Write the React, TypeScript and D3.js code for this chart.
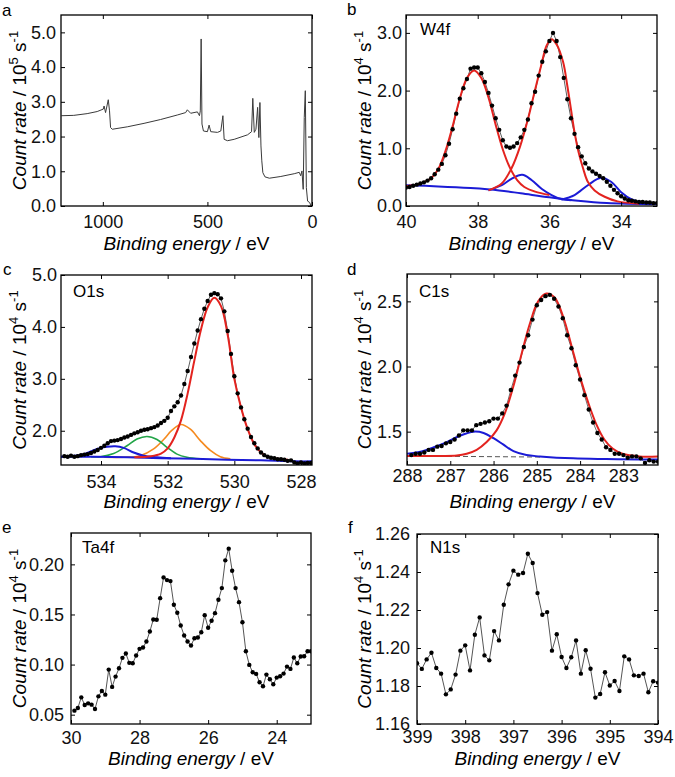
import React, { useEffect, useRef } from 'react';
import * as d3 from 'd3';

type Pt = [number, number];

// (a) survey: binding energy (eV) vs count rate (10^5 s^-1)
const surveyPts: Pt[] = [
  [1198, 2.6], [1139, 2.61], [1075, 2.66], [1027, 2.72], [998, 2.79], [994, 2.88], [987, 2.69],
  [974, 3.06], [968, 2.74], [963, 2.26], [955, 2.21], [883, 2.28], [803, 2.38], [724, 2.49],
  [644, 2.62], [604, 2.69], [596, 2.77], [580, 2.67], [548, 2.71], [538, 2.6], [534, 2.74],
  [530, 4.81], [526, 2.36], [519, 2.16], [500, 2.14], [492, 2.33], [484, 2.14], [452, 2.12],
  [436, 2.16], [426, 2.6], [420, 1.92], [404, 1.88], [372, 1.92], [308, 2.05], [289, 2.14],
  [283, 3.1], [276, 2.12], [268, 2.21], [260, 2.84], [254, 1.97], [249, 2.98], [244, 1.73],
  [240, 1.3], [235, 0.96], [225, 0.84], [204, 0.8], [149, 0.85], [85, 0.93], [61, 0.97],
  [54, 0.87], [48, 1.01], [42, 0.48], [37, 2.55], [32, 3.32], [27, 0.53], [21, 0.14],
  [11, 0.1], [5, 0.0],
];

// (b) W4f
const w4fData: Pt[] = [
  [40.0, 0.32], [39.9, 0.33], [39.8, 0.35], [39.7, 0.37], [39.6, 0.39], [39.5, 0.41], [39.4, 0.44],
  [39.3, 0.48], [39.2, 0.55], [39.1, 0.63], [39.0, 0.73], [38.9, 0.88], [38.8, 1.08], [38.7, 1.33],
  [38.6, 1.6], [38.5, 1.86], [38.4, 2.04], [38.3, 2.2], [38.2, 2.38], [38.1, 2.4], [38.0, 2.4],
  [37.9, 2.3], [37.8, 2.15], [37.7, 1.96], [37.6, 1.74], [37.5, 1.52], [37.4, 1.32], [37.3, 1.14],
  [37.2, 1.03], [37.1, 1.01], [37.0, 1.03], [36.9, 1.09], [36.8, 1.19], [36.7, 1.32], [36.6, 1.5],
  [36.5, 1.78], [36.4, 1.98], [36.3, 2.26], [36.2, 2.5], [36.1, 2.68], [36.0, 2.86], [35.9, 3.0],
  [35.8, 2.86], [35.7, 2.58], [35.6, 2.22], [35.5, 1.85], [35.4, 1.52], [35.3, 1.25], [35.2, 1.02],
  [35.1, 0.86], [35.0, 0.74], [34.9, 0.65], [34.8, 0.6], [34.7, 0.56], [34.6, 0.52], [34.5, 0.48],
  [34.4, 0.42], [34.3, 0.35], [34.2, 0.28], [34.1, 0.22], [34.0, 0.17], [33.9, 0.13], [33.8, 0.1],
  [33.7, 0.09], [33.6, 0.08], [33.5, 0.07], [33.4, 0.07], [33.3, 0.06], [33.2, 0.06], [33.1, 0.05],
  [33.0, 0.05],
];
const w4fRed1: Pt[] = [
  [40.0, 0.34], [39.6, 0.39], [39.3, 0.48], [39.1, 0.64], [38.9, 0.95], [38.7, 1.38], [38.5, 1.86],
  [38.3, 2.22], [38.1, 2.35], [37.9, 2.22], [37.7, 1.88], [37.5, 1.41], [37.3, 0.98], [37.1, 0.66],
  [36.9, 0.45], [36.7, 0.33], [36.4, 0.25], [36.0, 0.19],
];
const w4fRed2: Pt[] = [
  [37.7, 0.27], [37.33, 0.39], [37.06, 0.65], [36.82, 1.03], [36.59, 1.53], [36.41, 1.99],
  [36.22, 2.46], [36.08, 2.78], [35.94, 2.89], [35.8, 2.8], [35.62, 2.5], [35.5, 2.08], [35.4, 1.68],
  [35.3, 1.28], [35.19, 0.94], [35.06, 0.65], [34.93, 0.42], [34.74, 0.27], [34.46, 0.16],
  [34.1, 0.08], [33.5, 0.04],
];
const w4fBlue1: Pt[] = [
  [37.7, 0.27], [37.33, 0.36], [37.06, 0.47], [36.76, 0.54], [36.5, 0.45], [36.22, 0.3],
  [35.94, 0.19], [35.67, 0.12], [35.39, 0.1],
];
const w4fBlue2: Pt[] = [
  [35.67, 0.11], [35.3, 0.19], [34.93, 0.36], [34.56, 0.49], [34.28, 0.42], [34.0, 0.24],
  [33.72, 0.12], [33.35, 0.05], [33.0, 0.035],
];
const w4fBackground: Pt[] = [
  [40.0, 0.36], [39.1, 0.34], [38.2, 0.31], [37.4, 0.27], [36.8, 0.22], [36.0, 0.15], [35.2, 0.09],
  [34.4, 0.05], [33.0, 0.03],
];

// (c) O1s
const o1sData: Pt[] = [
  [535.1, 1.51], [535.0, 1.5], [534.9, 1.52], [534.8, 1.5], [534.7, 1.51], [534.6, 1.53], [534.5, 1.54],
  [534.4, 1.55], [534.3, 1.57], [534.2, 1.6], [534.1, 1.63], [534.0, 1.67], [533.9, 1.71], [533.8, 1.76],
  [533.7, 1.8], [533.6, 1.81], [533.5, 1.82], [533.4, 1.84], [533.3, 1.87], [533.2, 1.89], [533.1, 1.92],
  [533.0, 1.95], [532.9, 1.97], [532.8, 2.0], [532.7, 2.02], [532.6, 2.03], [532.5, 2.05], [532.4, 2.07],
  [532.3, 2.1], [532.2, 2.15], [532.1, 2.19], [532.0, 2.25], [531.9, 2.38], [531.8, 2.47], [531.7, 2.55],
  [531.6, 2.68], [531.5, 2.9], [531.4, 3.15], [531.3, 3.42], [531.2, 3.68], [531.1, 3.93], [531.0, 4.15],
  [530.9, 4.35], [530.8, 4.5], [530.7, 4.62], [530.6, 4.65], [530.5, 4.63], [530.4, 4.55], [530.3, 4.3],
  [530.2, 3.92], [530.1, 3.48], [530.0, 3.05], [529.9, 2.72], [529.8, 2.45], [529.7, 2.22], [529.6, 2.04],
  [529.5, 1.88], [529.4, 1.76], [529.3, 1.66], [529.2, 1.58], [529.1, 1.53], [529.0, 1.5], [528.9, 1.48],
  [528.8, 1.47], [528.7, 1.45], [528.6, 1.45], [528.5, 1.44], [528.4, 1.42], [528.3, 1.43], [528.2, 1.39],
  [528.1, 1.37], [528.0, 1.39], [527.9, 1.37], [527.8, 1.38], [527.7, 1.38],
];
const o1sRed: Pt[] = [
  [533.0, 1.49], [532.5, 1.51], [532.2, 1.56], [532.0, 1.66], [531.8, 1.87], [531.6, 2.2], [531.4, 2.72],
  [531.2, 3.35], [531.0, 3.95], [530.8, 4.38], [530.6, 4.56], [530.4, 4.4], [530.2, 3.85], [530.0, 3.0],
  [529.8, 2.45], [529.6, 2.03], [529.4, 1.74], [529.2, 1.58], [529.0, 1.5], [528.7, 1.46], [528.4, 1.44],
];
const o1sOrange: Pt[] = [
  [533.9, 1.49], [533.3, 1.49], [532.82, 1.52], [532.42, 1.65], [532.12, 1.83], [531.87, 2.01],
  [531.6, 2.12], [531.32, 2.03], [531.02, 1.81], [530.72, 1.62], [530.42, 1.5], [530.12, 1.46],
];
const o1sGreen: Pt[] = [
  [534.3, 1.5], [534.02, 1.5], [533.62, 1.56], [533.22, 1.71], [532.92, 1.84], [532.62, 1.89],
  [532.32, 1.83], [532.02, 1.68], [531.72, 1.55], [531.42, 1.49], [531.02, 1.46],
];
const o1sBlue: Pt[] = [
  [535.2, 1.5], [534.92, 1.51], [534.52, 1.55], [534.12, 1.65], [533.82, 1.69], [533.57, 1.7],
  [533.32, 1.67], [533.02, 1.58], [532.72, 1.52], [532.32, 1.49], [531.9, 1.47],
];
const o1sBackground: Pt[] = [
  [535.2, 1.5], [534.2, 1.5], [533.2, 1.49], [532.2, 1.47], [531.2, 1.46], [530.2, 1.44], [529.2, 1.43],
  [528.2, 1.41], [527.67, 1.41],
];

// (d) C1s
const c1sData: Pt[] = [
  [287.9, 1.32], [287.8, 1.33], [287.7, 1.33], [287.6, 1.34], [287.5, 1.36], [287.4, 1.36], [287.3, 1.385],
  [287.2, 1.39], [287.1, 1.41], [287.0, 1.42], [286.9, 1.44], [286.8, 1.47], [286.7, 1.51], [286.6, 1.51],
  [286.5, 1.51], [286.4, 1.55], [286.3, 1.56], [286.2, 1.57], [286.1, 1.58], [286.0, 1.6], [285.9, 1.6],
  [285.8, 1.64], [285.7, 1.7], [285.6, 1.82], [285.5, 1.93], [285.4, 2.03], [285.3, 2.15], [285.2, 2.24],
  [285.1, 2.36], [285.0, 2.47], [284.9, 2.51], [284.8, 2.54], [284.7, 2.55], [284.6, 2.52], [284.5, 2.46],
  [284.4, 2.37], [284.3, 2.24], [284.2, 2.14], [284.1, 2.01], [284.0, 1.9], [283.9, 1.78], [283.8, 1.67],
  [283.7, 1.57], [283.6, 1.49], [283.5, 1.44], [283.4, 1.38], [283.3, 1.36], [283.2, 1.33], [283.1, 1.33],
  [283.0, 1.32], [282.9, 1.3], [282.8, 1.31], [282.7, 1.31], [282.6, 1.295], [282.5, 1.26], [282.4, 1.28],
  [282.3, 1.27], [282.2, 1.27],
];
const c1sRed: Pt[] = [
  [288.0, 1.313], [287.23, 1.313], [286.85, 1.316], [286.62, 1.33], [286.39, 1.36], [286.16, 1.42],
  [285.93, 1.51], [285.74, 1.64], [285.54, 1.85], [285.35, 2.1], [285.16, 2.33], [284.97, 2.5],
  [284.78, 2.56], [284.59, 2.53], [284.39, 2.38], [284.2, 2.16], [284.01, 1.93], [283.82, 1.73],
  [283.63, 1.56], [283.44, 1.44], [283.25, 1.37], [283.02, 1.33], [282.63, 1.31], [282.2, 1.31],
];
const c1sBlue: Pt[] = [
  [288.0, 1.33], [287.69, 1.345], [287.38, 1.38], [287.08, 1.42], [286.77, 1.47], [286.46, 1.5],
  [286.23, 1.49], [286.0, 1.45], [285.77, 1.4], [285.54, 1.35], [285.24, 1.32], [284.93, 1.31],
  [284.16, 1.295], [283.4, 1.29], [282.63, 1.287], [282.2, 1.287],
];
const c1sBaseline: Pt[] = [[288.0, 1.313], [284.9, 1.305]];

// (e) Ta4f
const ta4fData: Pt[] = [
  [29.9, 0.054], [29.8, 0.0567], [29.7, 0.0673], [29.6, 0.0597], [29.5, 0.0613], [29.4, 0.06], [29.3, 0.0557],
  [29.2, 0.0683], [29.1, 0.0737], [29.0, 0.07], [28.9, 0.095], [28.8, 0.0777], [28.7, 0.088], [28.6, 0.0963],
  [28.5, 0.1067], [28.4, 0.111], [28.3, 0.1017], [28.2, 0.1013], [28.1, 0.109], [28.0, 0.1157], [27.9, 0.117],
  [27.8, 0.123], [27.7, 0.133], [27.6, 0.145], [27.5, 0.1447], [27.4, 0.1663], [27.3, 0.187], [27.2, 0.1843],
  [27.1, 0.1833], [27.0, 0.1597], [26.9, 0.1517], [26.8, 0.139], [26.7, 0.129], [26.6, 0.123], [26.5, 0.119],
  [26.4, 0.1263], [26.3, 0.127], [26.2, 0.1323], [26.1, 0.1493], [26.0, 0.1367], [25.9, 0.1437], [25.8, 0.1513],
  [25.7, 0.1647], [25.6, 0.1763], [25.5, 0.204], [25.4, 0.2157], [25.3, 0.1937], [25.2, 0.1763], [25.1, 0.1623],
  [25.0, 0.1423], [24.9, 0.1133], [24.8, 0.0997], [24.7, 0.0923], [24.6, 0.0907], [24.5, 0.0823], [24.4, 0.0783],
  [24.3, 0.09], [24.2, 0.0853], [24.1, 0.0803], [24.0, 0.087], [23.9, 0.0883], [23.8, 0.091], [23.7, 0.098],
  [23.6, 0.0957], [23.5, 0.107], [23.4, 0.1013], [23.3, 0.108], [23.2, 0.1083], [23.1, 0.1133], [23.0, 0.1133],
];

// (f) N1s
const n1sData: Pt[] = [
  [399.0, 1.192], [398.9, 1.189], [398.8, 1.194], [398.7, 1.1975], [398.6, 1.1895], [398.5, 1.1865],
  [398.4, 1.1756], [398.3, 1.1782], [398.2, 1.186], [398.1, 1.1986], [398.0, 1.2014], [397.9, 1.1882],
  [397.8, 1.207], [397.7, 1.2161], [397.6, 1.1961], [397.5, 1.1935], [397.4, 1.2089], [397.3, 1.204],
  [397.2, 1.2228], [397.1, 1.2335], [397.0, 1.2407], [396.9, 1.2386], [396.8, 1.2395], [396.7, 1.2496],
  [396.6, 1.2447], [396.5, 1.2289], [396.4, 1.2175], [396.3, 1.2189], [396.2, 1.1986], [396.1, 1.2072],
  [396.0, 1.1953], [395.9, 1.1895], [395.8, 1.1951], [395.7, 1.204], [395.6, 1.1865], [395.5, 1.1988],
  [395.4, 1.1891], [395.3, 1.1739], [395.2, 1.1758], [395.1, 1.1872], [395.0, 1.1803], [394.9, 1.1826],
  [394.8, 1.1774], [394.7, 1.1956], [394.6, 1.194], [394.5, 1.1856], [394.4, 1.1853], [394.3, 1.1865],
  [394.2, 1.1767], [394.1, 1.1825], [394.0, 1.1818],
];

const ticksA_x = [1000, 500, 0];
const ticksA_y = [0, 1, 2, 3, 4, 5];
const ticksB_x = [40, 38, 36, 34];
const ticksB_y = [0, 1, 2, 3];
const ticksC_x = [534, 532, 530, 528];
const ticksC_y = [2, 3, 4, 5];
const ticksD_x = [288, 287, 286, 285, 284, 283];
const ticksD_y = [1.5, 2.0, 2.5];
const ticksE_x = [30, 28, 26, 24];
const ticksE_y = [0.05, 0.1, 0.15, 0.2];
const ticksF_x = [399, 398, 397, 396, 395, 394];
const ticksF_y = [1.16, 1.18, 1.2, 1.22, 1.24, 1.26];

const RED = '#e3231f';
const BLUE = '#1b1bd6';
const GREEN = '#23a548';
const ORANGE = '#f58a1f';
const FONT = '"Liberation Sans", Arial, Helvetica, sans-serif';

interface Curve { pts: Pt[]; color: string; width: number; dash?: string; }

interface PanelSpec {
    letter: string; letterX: number; letterY: number;
    left: number; top: number; right: number; bottom: number;
    xDomain: [number, number]; yDomain: [number, number];
    xTicks: number[]; yTicks: number[]; xFmt: string; yFmt: string;
    data: Pt[]; dots: boolean; lineColor: string; lineWidth: number;
    curves: Curve[];
    name?: string; nameX?: number; nameY?: number;
    yLabelX: number; exp: string; xLabelY: number;
    xTickGap: number; yTickGap: number;
}

const panels: PanelSpec[] = [
    {
        letter: 'a', letterX: 2, letterY: 16, left: 61, top: 15, right: 312, bottom: 206,
        xDomain: [1200, 0], yDomain: [0, 5.5], xTicks: ticksA_x, yTicks: ticksA_y, xFmt: 'd', yFmt: '.1f',
        data: surveyPts, dots: false, lineColor: '#3a3a3a', lineWidth: 1, curves: [],
        yLabelX: 26, exp: '5', xLabelY: 250, xTickGap: 22, yTickGap: 5,
    },
    {
        letter: 'b', letterX: 347, letterY: 15, left: 406, top: 15, right: 657, bottom: 206,
        xDomain: [40, 33], yDomain: [0, 3.31], xTicks: ticksB_x, yTicks: ticksB_y, xFmt: 'd', yFmt: '.1f',
        data: w4fData, dots: true, lineColor: '#333', lineWidth: 0.8,
        curves: [
            { pts: w4fBackground, color: BLUE, width: 2 },
            { pts: w4fBlue1, color: BLUE, width: 2 },
            { pts: w4fBlue2, color: BLUE, width: 2 },
            { pts: w4fRed1, color: RED, width: 2 },
            { pts: w4fRed2, color: RED, width: 2 },
        ],
        name: 'W4f', nameX: 420, nameY: 35,
        yLabelX: 371, exp: '4', xLabelY: 250, xTickGap: 22, yTickGap: 4,
    },
    {
        letter: 'c', letterX: 3, letterY: 275, left: 61, top: 275, right: 312, bottom: 465,
        xDomain: [535.2, 527.67], yDomain: [1.34, 5.0], xTicks: ticksC_x, yTicks: ticksC_y, xFmt: 'd', yFmt: '.1f',
        data: o1sData, dots: true, lineColor: '#333', lineWidth: 0.8,
        curves: [
            { pts: o1sOrange, color: ORANGE, width: 1.6 },
            { pts: o1sGreen, color: GREEN, width: 1.6 },
            { pts: o1sBackground, color: BLUE, width: 2 },
            { pts: o1sBlue, color: BLUE, width: 2 },
            { pts: o1sRed, color: RED, width: 2 },
        ],
        name: 'O1s', nameX: 73, nameY: 297,
        yLabelX: 26, exp: '4', xLabelY: 508, xTickGap: 23, yTickGap: 4,
    },
    {
        letter: 'd', letterX: 347, letterY: 275, left: 407, top: 274, right: 658, bottom: 465,
        xDomain: [288, 282.2], yDomain: [1.244, 2.71], xTicks: ticksD_x, yTicks: ticksD_y, xFmt: 'd', yFmt: '.1f',
        data: c1sData, dots: true, lineColor: '#444', lineWidth: 0.8,
        curves: [
            { pts: c1sBaseline, color: '#555', width: 1, dash: '5,3' },
            { pts: c1sBlue, color: BLUE, width: 2 },
            { pts: c1sRed, color: RED, width: 2 },
        ],
        name: 'C1s', nameX: 419, nameY: 297,
        yLabelX: 371, exp: '4', xLabelY: 508, xTickGap: 17, yTickGap: 5,
    },
    {
        letter: 'e', letterX: 2, letterY: 533, left: 71, top: 533, right: 311, bottom: 724,
        xDomain: [30, 23], yDomain: [0.0407, 0.2313], xTicks: ticksE_x, yTicks: ticksE_y, xFmt: 'd', yFmt: '.2f',
        data: ta4fData, dots: true, lineColor: '#555', lineWidth: 1, curves: [],
        name: 'Ta4f', nameX: 82, nameY: 553,
        yLabelX: 26, exp: '4', xLabelY: 765, xTickGap: 20, yTickGap: 7,
    },
    {
        letter: 'f', letterX: 348, letterY: 533, left: 417, top: 534, right: 658, bottom: 724,
        xDomain: [399, 394], yDomain: [1.16, 1.26], xTicks: ticksF_x, yTicks: ticksF_y, xFmt: 'd', yFmt: '.2f',
        data: n1sData, dots: true, lineColor: '#555', lineWidth: 1, curves: [],
        name: 'N1s', nameX: 430, nameY: 553,
        yLabelX: 371, exp: '4', xLabelY: 765, xTickGap: 19, yTickGap: 7,
    },
];

function drawPanel(svg: d3.Selection<SVGSVGElement, unknown, null, undefined>, p: PanelSpec) {
    const x = d3.scaleLinear().domain(p.xDomain).range([p.left, p.right]);
    const y = d3.scaleLinear().domain(p.yDomain).range([p.bottom, p.top]);
    const g = svg.append('g');

    const clipId = 'clip-' + p.letter;
    svg.append('clipPath').attr('id', clipId)
        .append('rect')
        .attr('x', p.left).attr('y', p.top)
        .attr('width', p.right - p.left).attr('height', p.bottom - p.top);

    const plot = g.append('g').attr('clip-path', `url(#${clipId})`);
    const smooth = d3.line<Pt>().x(d => x(d[0])).y(d => y(d[1])).curve(d3.curveCatmullRom.alpha(0.5));
    const straight = d3.line<Pt>().x(d => x(d[0])).y(d => y(d[1]));

    plot.append('path')
        .attr('d', straight(p.data))
        .attr('fill', 'none')
        .attr('stroke', p.lineColor)
        .attr('stroke-width', p.lineWidth)
        .attr('stroke-linejoin', 'round');

    p.curves.forEach(c => {
        plot.append('path')
            .attr('d', smooth(c.pts))
            .attr('fill', 'none')
            .attr('stroke', c.color)
            .attr('stroke-width', c.width)
            .attr('stroke-dasharray', c.dash || null);
    });

    if (p.dots) {
        plot.selectAll('circle.dot')
            .data(p.data)
            .enter()
            .append('circle')
            .attr('class', 'dot')
            .attr('cx', d => x(d[0]))
            .attr('cy', d => y(d[1]))
            .attr('r', 2.2)
            .attr('fill', '#000');
    }

    // axes, ticks pointing inward on all four sides
    const fx = d3.format(p.xFmt);
    const fy = d3.format(p.yFmt);
    const bottom = g.append('g')
        .attr('transform', `translate(0,${p.bottom})`)
        .call(d3.axisBottom(x).tickValues(p.xTicks).tickFormat(d => fx(d as number)).tickSize(-4).tickPadding(p.xTickGap - 12.8));
    const left = g.append('g')
        .attr('transform', `translate(${p.left},0)`)
        .call(d3.axisLeft(y).tickValues(p.yTicks).tickFormat(d => fy(d as number)).tickSize(-4).tickPadding(p.yTickGap));
    const top = g.append('g')
        .attr('transform', `translate(0,${p.top})`)
        .call(d3.axisTop(x).tickValues(p.xTicks).tickFormat(() => '').tickSize(-4));
    const right = g.append('g')
        .attr('transform', `translate(${p.right},0)`)
        .call(d3.axisRight(y).tickValues(p.yTicks).tickFormat(() => '').tickSize(-4));

    [bottom, left, top, right].forEach(a => {
        a.select('.domain').remove();
        a.selectAll('line').attr('stroke', '#000').attr('stroke-width', 1);
        a.selectAll('text').attr('fill', '#111').style('font-size', '18px').style('font-family', FONT);
    });

    g.append('rect')
        .attr('x', p.left).attr('y', p.top)
        .attr('width', p.right - p.left).attr('height', p.bottom - p.top)
        .attr('fill', 'none')
        .attr('stroke', '#000')
        .attr('stroke-width', 1.3);

    g.append('text')
        .attr('x', p.letterX).attr('y', p.letterY)
        .style('font-family', FONT).style('font-size', '17px')
        .text(p.letter);

    if (p.name) {
        g.append('text')
            .attr('x', p.nameX!).attr('y', p.nameY!)
            .style('font-family', FONT).style('font-size', '17px')
            .text(p.name);
    }

    const cy = (p.top + p.bottom) / 2;
    const yl = g.append('text')
        .attr('transform', `translate(${p.yLabelX},${cy}) rotate(-90)`)
        .attr('text-anchor', 'middle')
        .style('font-family', FONT).style('font-size', '19px');
    yl.append('tspan').style('font-style', 'italic').text('Count rate');
    yl.append('tspan').text(' / 10');
    yl.append('tspan').attr('dy', -8).style('font-size', '13px').text(p.exp);
    yl.append('tspan').attr('dy', 8).text(' s');
    yl.append('tspan').attr('dy', -8).style('font-size', '13px').text('-1');

    const xl = g.append('text')
        .attr('x', (p.left + p.right) / 2).attr('y', p.xLabelY)
        .attr('text-anchor', 'middle')
        .style('font-family', FONT).style('font-size', '19px');
    xl.append('tspan').style('font-style', 'italic').text('Binding energy');
    xl.append('tspan').text(' / eV');
}

const App: React.FC = () => {
    const svgRef = useRef<SVGSVGElement>(null);

    useEffect(() => {
        if (!svgRef.current) return;
        const svg = d3.select(svgRef.current);
        svg.selectAll('*').remove();
        panels.forEach(p => drawPanel(svg, p));
        return () => {
            svg.selectAll('*').remove();
        };
    }, []);

    return (
        <svg
            ref={svgRef}
            width={675}
            height={777}
            style={{ position: 'absolute', left: 0, top: 0, background: '#fff' }}
        />
    );
};

export default App;
